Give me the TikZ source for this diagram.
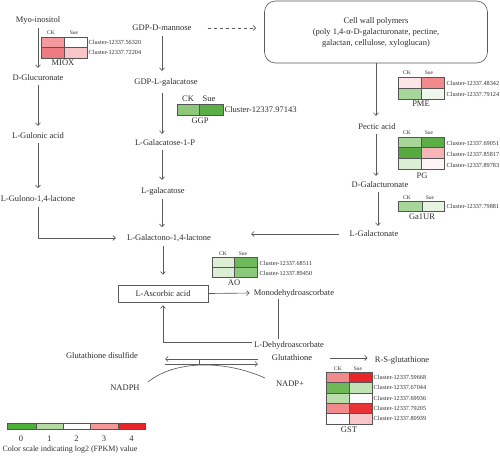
\documentclass[tikz,border=0pt]{standalone}
\usepackage{fontspec}
\setmainfont{Liberation Serif}
\usetikzlibrary{arrows.meta}
\definecolor{txt}{HTML}{2E2E2E}
\definecolor{lnc}{HTML}{5A5A5A}
\definecolor{grd}{HTML}{555555}
% heat colours
\definecolor{cR}{HTML}{E8262A}
\definecolor{cR2}{HTML}{E83236}
\definecolor{cS}{HTML}{F08A8C}
\definecolor{cS2}{HTML}{EE7B80}
\definecolor{cS3}{HTML}{F29A9E}
\definecolor{cLP}{HTML}{F8C6C9}
\definecolor{cLP2}{HTML}{F7B5B9}
\definecolor{cVP}{HTML}{FCE4E7}
\definecolor{cVP2}{HTML}{FEF5F5}
\definecolor{cG}{HTML}{5BAE45}
\definecolor{cG2}{HTML}{56AA40}
\definecolor{cG3}{HTML}{6DB857}
\definecolor{cG4}{HTML}{6EB95A}
\definecolor{cG5}{HTML}{8CC97B}
\definecolor{cG6}{HTML}{8DC77A}
\definecolor{cLG}{HTML}{A8D69A}
\definecolor{cLG2}{HTML}{BADDAC}
\definecolor{cLG3}{HTML}{C2E1B5}
\definecolor{cVG}{HTML}{DCEFD5}
\definecolor{cVG2}{HTML}{E6F3E1}
\definecolor{cVG3}{HTML}{EFF7EC}
\definecolor{cW}{HTML}{FBFBFB}
\definecolor{lg0}{HTML}{4FAF3B}
\definecolor{lg1}{HTML}{B3DBA3}
\definecolor{lg3}{HTML}{F59698}
\definecolor{lg4}{HTML}{E8262A}
\begin{document}
\begin{tikzpicture}[x=1pt,y=-1pt,
  lbl/.style={font=\fontsize{8.5}{11}\selectfont, inner sep=2pt, text=txt},
  clu/.style={font=\fontsize{6.2}{7}\selectfont, anchor=west, inner sep=0.5pt, text=txt},
  hdr/.style={font=\fontsize{5.5}{6}\selectfont, inner sep=0.5pt, text=txt},
  arr/.style={draw=lnc, line width=0.65pt, -{Straight Barb[length=2.6pt,width=5pt]}},
  ln/.style={draw=lnc, line width=0.65pt},
  grid/.style={draw=grd, line width=0.6pt}]
\useasboundingbox (0,0) rectangle (500,457);
\fill[white] (0,0) rectangle (500,457);

% ---------- metabolite nodes ----------
\node[lbl] (myo)   at (38,20)  {Myo-inositol};
\node[lbl] (dglr)  at (38,78)  {D-Glucuronate};
\node[lbl] (lgul)  at (38,136) {L-Gulonic acid};
\node[lbl] (lgulo) at (38,199) {L-Gulono-1,4-lactone};
\node[lbl] (gdpm)  at (162,28) {GDP-D-mannose};
\node[lbl] (gdpl)  at (166,82) {GDP-L-galacatose};
\node[lbl] (lg1p)  at (165,143) {L-Galacatose-1-P};
\node[lbl] (lgal)  at (163,191) {L-galacatose};
\node[lbl] (lgl)   at (169,238) {L-Galactono-1,4-lactone};
\node[lbl, draw=lnc, line width=0.65pt, minimum width=90pt, minimum height=17pt] (asa) at (163,293.5) {L-Ascorbic acid};
\node[lbl] (mdha)  at (294,293) {Monodehydroascorbate};
\node[lbl] (dha)   at (289,345) {L-Dehydroascorbate};
\node[lbl] (gssg)  at (102,356) {Glutathione disulfide};
\node[lbl] (gsh)   at (292,358) {Glutathione};
\node[lbl] (rsg)   at (402,360) {R-S-glutathione};
\node[lbl] (nadph) at (125,388) {NADPH};
\node[lbl] (nadp)  at (290,384) {NADP+};
\node[lbl, draw=lnc, line width=0.65pt, rounded corners=11pt, minimum width=223pt, minimum height=62pt, align=center] (cwp) at (376,32)
  {Cell wall polymers\\(poly 1,4-α-D-galacturonate, pectine,\\galactan, cellulose, xyloglucan)};
\node[lbl] (pect)  at (377,127) {Pectic acid};
\node[lbl] (dgala) at (380,185) {D-Galacturonate};
\node[lbl] (lgala) at (374,234) {L-Galactonate};

% ---------- connectors ----------
\draw[arr, shorten <=2pt, shorten >=5pt] (myo.south) -- (dglr.north);
\draw[arr, shorten <=2pt, shorten >=5pt] (dglr.south) -- (lgul.north);
\draw[arr, shorten <=2pt, shorten >=5pt] (lgul.south) -- (lgulo.north);
\draw[arr, shorten <=2pt, shorten >=9pt] (lgulo.south) |- (lgl.west);
\draw[arr, shorten <=3pt, shorten >=5pt] (gdpm.south) -- (gdpm.south |- gdpl.north);
\draw[arr, shorten <=5pt, shorten >=4pt] (gdpm.south |- gdpl.south) -- (gdpm.south |- lg1p.north);
\draw[arr, shorten <=2pt, shorten >=5pt] (gdpm.south |- lg1p.south) -- (gdpm.south |- lgal.north);
\draw[arr, shorten <=2pt, shorten >=5pt] (gdpm.south |- lgal.south) -- (gdpm.south |- lgl.north);
\draw[arr, shorten <=2pt, shorten >=10pt] (asa.north |- lgl.south) -- (asa.north);
\draw[arr, shorten >=2pt] (asa.east) -- (mdha.west);
\draw[ln] ([xshift=-16pt]mdha.south) -- ([xshift=-16pt]mdha.south |- dha.north);
\draw[arr, shorten >=3pt] ([yshift=3pt]dha.west) -| (asa.south);
\draw[arr, shorten >=6pt] (cwp.south) -- (cwp.south |- pect.north);
\draw[arr, shorten <=2pt, shorten >=4pt] (cwp.south |- pect.south) -- (cwp.south |- dgala.north);
\draw[arr, shorten <=2pt, shorten >=3pt] ([xshift=2pt]cwp.south |- dgala.south) -- ([xshift=2pt]cwp.south |- lgala.north);
\coordinate (lglin) at (251,234);
\draw[arr, shorten <=9pt] (lgala.west) -- (lglin);
\draw[arr, dash pattern=on 3pt off 3pt, shorten <=14pt, shorten >=8pt] (gdpm.east) -- (gdpm.east -| cwp.west);
\draw[arr, shorten <=16pt, shorten >=5pt] (gsh.east) -- (gsh.east -| rsg.west);

% glutathione cycle
\coordinate (cyL1) at (165,359);
\coordinate (cyR1) at (258,359);
\coordinate (cyL2) at (165,364);
\coordinate (cyR2) at (258,364);
\coordinate (cyT1) at (199,359);
\coordinate (cyT2) at (199,364);
\coordinate (arcA) at (148,382);
\coordinate (arcB) at (265,378);
\draw[arr] (cyR1) -- (cyL1);
\draw[arr] (cyL2) -- (cyR2);
\draw[ln] (cyT1) -- (cyT2);
\draw[ln] (arcA) .. controls (175,360) and (225,360) .. (arcB);

% ---------- heat maps ----------
% MIOX
\fill[cS3] (41,37) rectangle (64,47.5);
\fill[white] (64,37) rectangle (87,47.5);
\fill[cS2] (41,47.5) rectangle (64,58);
\fill[cLP] (64,47.5) rectangle (87,58);
\draw[grid] (41,37) rectangle (87,58);
\draw[grid] (64,37) -- (64,58);
\draw[grid] (41,47.5) -- (87,47.5);
\node[hdr] (mioxck) at (51,33) {CK};
\node[hdr] (mioxsu) at (74,33) {Sue};
\node[clu] (mioxa) at (88,42.5) {Cluster-12337.56320};
\node[clu] (mioxb) at (88,52.5) {Cluster-12337.72204};
\node[lbl] (miox) at (63,63) {MIOX};

% GGP
\fill[cG6] (177,104) rectangle (199.5,115);
\fill[cG] (199.5,104) rectangle (223,115);
\draw[grid] (177,104) rectangle (223,115);
\draw[grid] (199.5,104) -- (199.5,115);
\node[lbl, inner sep=0.5pt] (ggpck) at (188,99) {CK};
\node[lbl, inner sep=0.5pt] (ggpsu) at (209,99) {Sue};
\node[lbl, anchor=west, inner sep=0.5pt] (ggpa) at (224,110) {Cluster-12337.97143};
\node[lbl] (ggp) at (200,121) {GGP};

% PME
\fill[cVP] (398,77) rectangle (421.5,88);
\fill[cS] (421.5,77) rectangle (444,88);
\fill[cLG] (398,88) rectangle (421.5,99);
\fill[cVG3] (421.5,88) rectangle (444,99);
\draw[grid] (398,77) rectangle (444,99);
\draw[grid] (421.5,77) -- (421.5,99);
\draw[grid] (398,88) -- (444,88);
\node[hdr] (pmeck) at (407,73) {CK};
\node[hdr] (pmesu) at (429,73) {Sue};
\node[clu] (pmea) at (446,83) {Cluster-12337.48342};
\node[clu] (pmeb) at (446,94) {Cluster-12337.79124};
\node[lbl] (pme) at (421,104) {PME};

% PG
\fill[cLG] (398,137) rectangle (421.5,147.8);
\fill[cG] (421.5,137) rectangle (444,147.8);
\fill[cG2] (398,147.8) rectangle (421.5,158.6);
\fill[cLP2] (421.5,147.8) rectangle (444,158.6);
\fill[cVG] (398,158.6) rectangle (421.5,169.4);
\fill[cVP2] (421.5,158.6) rectangle (444,169.4);
\draw[grid] (398,137) rectangle (444,169.4);
\draw[grid] (421.5,137) -- (421.5,169.4);
\draw[grid] (398,147.8) -- (444,147.8);
\draw[grid] (398,158.6) -- (444,158.6);
\node[hdr] (pgck) at (407,133) {CK};
\node[hdr] (pgsu) at (429,133) {Sue};
\node[clu] (pga) at (446,143) {Cluster-12337.69051};
\node[clu] (pgb) at (446,154) {Cluster-12337.85817};
\node[clu] (pgc) at (446,165) {Cluster-12337.89783};
\node[lbl] (pg) at (422,176) {PG};

% Ga1UR
\fill[cLG] (398,201) rectangle (422,211);
\fill[cVG2] (422,201) rectangle (444,211);
\draw[grid] (398,201) rectangle (444,211);
\draw[grid] (422,201) -- (422,211);
\node[hdr] (galck) at (407,197.5) {CK};
\node[hdr] (galsu) at (430,197.5) {Sue};
\node[clu] (gala) at (446,206.5) {Cluster-12337.79881};
\node[lbl] (ga1ur) at (422,217) {Ga1UR};

% AO
\fill[cVG] (212,257.5) rectangle (234.5,267.2);
\fill[cG4] (234.5,257.5) rectangle (257,267.2);
\fill[cVG] (212,267.2) rectangle (234.5,277);
\fill[cG5] (234.5,267.2) rectangle (257,277);
\draw[grid] (212,257.5) rectangle (257,277);
\draw[grid] (234.5,257.5) -- (234.5,277);
\draw[grid] (212,267.2) -- (257,267.2);
\node[hdr] (aock) at (223,253.5) {CK};
\node[hdr] (aosu) at (243,253.5) {Sue};
\node[clu] (aoa) at (259,263.5) {Cluster-12337.68511};
\node[clu] (aob) at (259,273.5) {Cluster-12337.89450};
\node[lbl] (ao) at (234,283) {AO};

% GST
\fill[cS] (326,372) rectangle (349,382.4);
\fill[cR] (349,372) rectangle (372,382.4);
\fill[cG3] (326,382.4) rectangle (349,392.8);
\fill[cLG3] (349,382.4) rectangle (372,392.8);
\fill[cLG2] (326,392.8) rectangle (349,403.2);
\fill[cW] (349,392.8) rectangle (372,403.2);
\fill[cS] (326,403.2) rectangle (349,413.6);
\fill[cR2] (349,403.2) rectangle (372,413.6);
\fill[cW] (326,413.6) rectangle (349,424);
\fill[cLP] (349,413.6) rectangle (372,424);
\draw[grid] (326,372) rectangle (372,424);
\draw[grid] (349,372) -- (349,424);
\foreach \yy in {382.4,392.8,403.2,413.6} \draw[grid] (326,\yy) -- (372,\yy);
\node[hdr] (gstck) at (338,368.5) {CK};
\node[hdr] (gstsu) at (358,368.5) {Sue};
\node[clu] (gsta) at (373,377.2) {Cluster-12337.59668};
\node[clu] (gstb) at (373,387.6) {Cluster-12337.67044};
\node[clu] (gstc) at (373,398) {Cluster-12337.69936};
\node[clu] (gstd) at (373,408.4) {Cluster-12337.79205};
\node[clu] (gste) at (373,418.8) {Cluster-12337.80939};
\node[lbl] (gst) at (349,430) {GST};

% ---------- legend ----------
\fill[lg0] (7,423) rectangle (36,429);
\fill[lg1] (36,423) rectangle (63,429);
\fill[white] (63,423) rectangle (90,429);
\fill[lg3] (90,423) rectangle (118,429);
\fill[lg4] (118,423) rectangle (145,429);
\draw[grid] (7,423) rectangle (145,429);
\foreach \xx in {36,63,90,118} \draw[grid] (\xx,423) -- (\xx,429);
\node[lbl] (l0) at (21,439) {0};
\node[lbl] (l1) at (49.5,439) {1};
\node[lbl] (l2) at (76.5,439) {2};
\node[lbl] (l3) at (104,439) {3};
\node[lbl] (l4) at (131.5,439) {4};
\node[lbl, font=\fontsize{8}{10}\selectfont] (lcap) at (70,449.5) {Color scale indicating log2 (FPKM) value};
\end{tikzpicture}
\end{document}
